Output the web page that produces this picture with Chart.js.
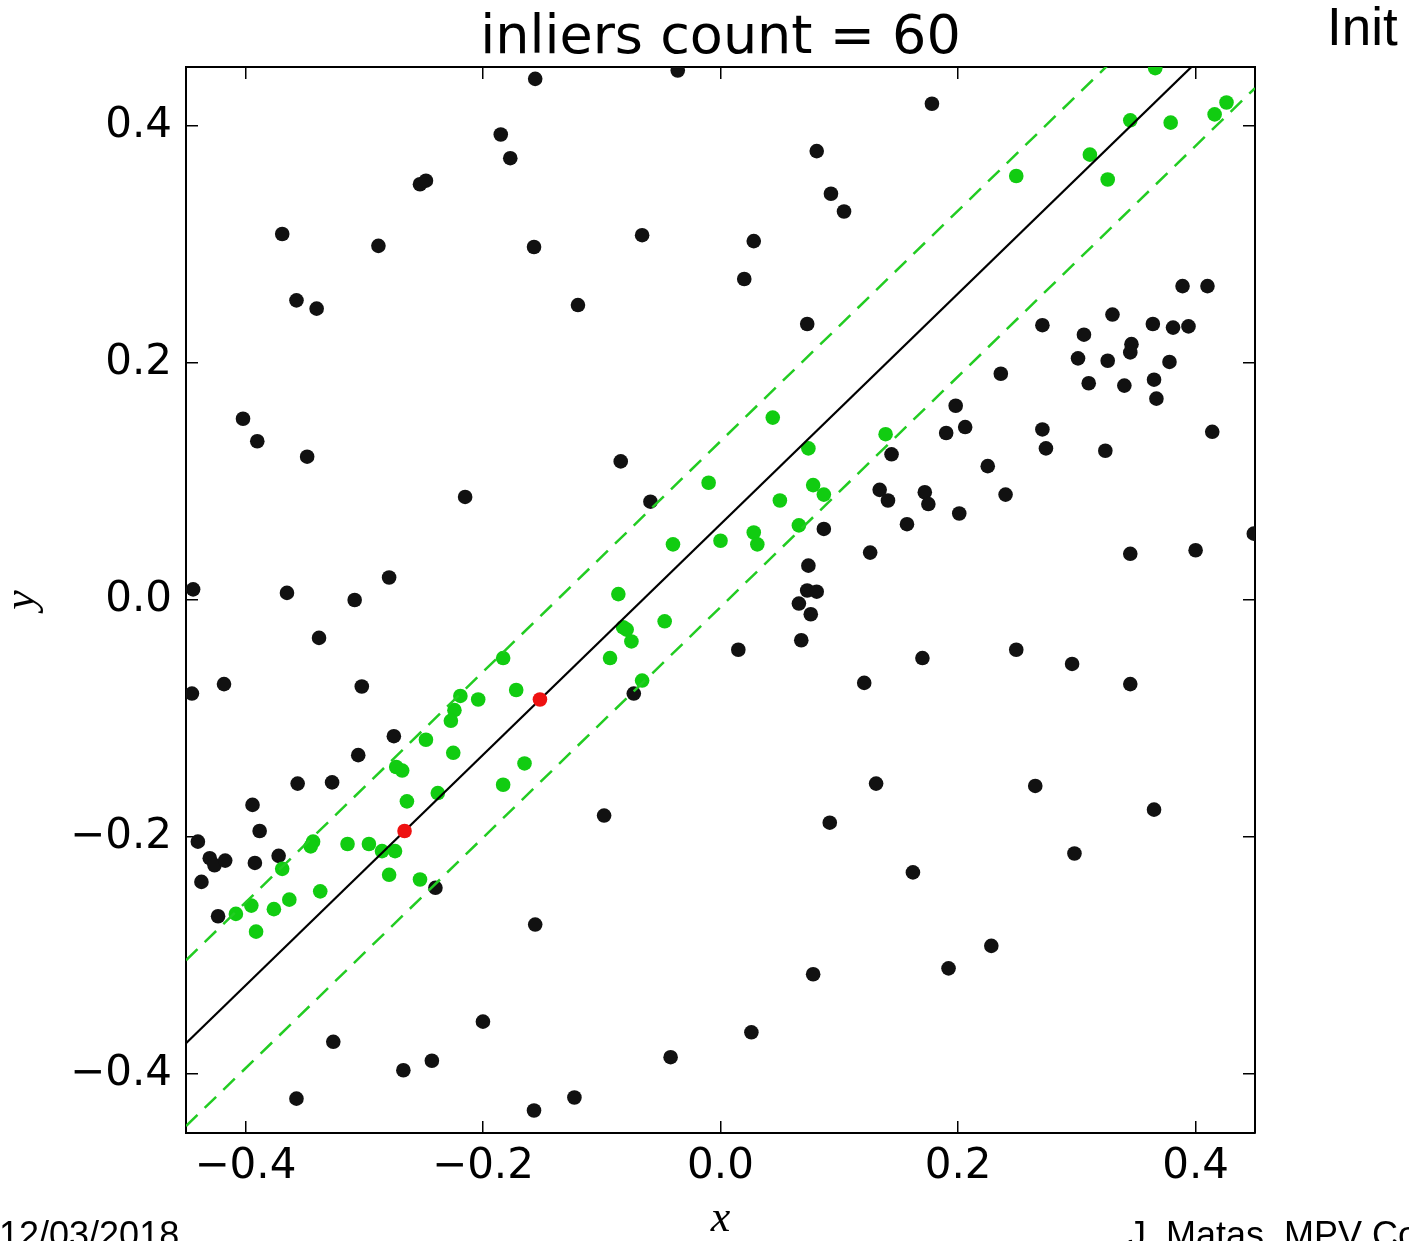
<!DOCTYPE html>
<html><head><meta charset="utf-8">
<script src="https://cdn.jsdelivr.net/npm/chart.js@4.4.1/dist/chart.umd.min.js"></script>
<style>
html,body{margin:0;padding:0;background:#fff;overflow:hidden}
#wrap{position:relative;width:1409px;height:1241px;overflow:hidden}
canvas{position:absolute;left:0;top:0}
.slide{position:absolute;font-family:"Liberation Sans",sans-serif;color:#000;white-space:nowrap;line-height:1}
</style></head><body>
<div id="wrap">
<canvas id="c" width="1409" height="1241"></canvas>
<div class="slide" style="left:1327px;top:0px;font-size:53px">Init</div>
<div class="slide" style="left:-1px;top:1217px;font-size:36px">12/03/2018</div>
<div class="slide" style="left:1128px;top:1217px;font-size:36px">J. Matas, MPV Course</div>
</div>
<script>
const titleText = "inliers count = 60";
const axisRange = [-0.45, 0.45];
const tickValues = [-0.4, -0.2, 0.0, 0.2, 0.4];
const tickLabels = ["\u22120.4", "\u22120.2", "0.0", "0.2", "0.4"];
const xAxisLabel = "x";
const yAxisLabel = "y";

// two sampled points that define the model (red)
const sampleX = [-0.266, -0.152];
const sampleY = [-0.195, -0.084];
// vertical half-width of the inlier band
const bandOffset = 0.07;

// inliers (green)
const inlierX = [0.366,0.426,0.416,0.345,0.379,0.311,0.249,0.326,0.044,0.139,0.074,-0.010,0.078,0.087,0.050,0.066,-0.040,0.000,0.028,0.031,-0.086,-0.082,-0.079,-0.075,-0.047,-0.093,-0.066,-0.183,-0.172,-0.219,-0.204,-0.224,-0.227,-0.248,-0.225,-0.165,-0.273,-0.268,-0.183,-0.238,-0.264,-0.343,-0.345,-0.314,-0.296,-0.285,-0.274,-0.369,-0.279,-0.253,-0.337,-0.363,-0.376,-0.395,-0.408,-0.391];
const inlierY = [0.449,0.420,0.410,0.405,0.403,0.376,0.358,0.355,0.154,0.140,0.128,0.099,0.097,0.089,0.084,0.063,0.047,0.050,0.057,0.047,0.005,-0.023,-0.025,-0.035,-0.018,-0.049,-0.068,-0.049,-0.076,-0.081,-0.084,-0.093,-0.102,-0.118,-0.129,-0.138,-0.141,-0.144,-0.156,-0.163,-0.170,-0.204,-0.208,-0.206,-0.206,-0.212,-0.212,-0.227,-0.232,-0.236,-0.246,-0.253,-0.261,-0.258,-0.265,-0.280];

// outliers (black)
const outlierX = [
 -0.156,-0.185,-0.177,-0.253,-0.248,-0.369,-0.288,-0.157,-0.357,-0.340,-0.402,
 -0.390,-0.348,-0.215,-0.444,-0.365,-0.308,-0.279,-0.338,-0.445,-0.418,-0.302,-0.275,-0.305,
 -0.084,-0.059,0.144,0.134,0.141,0.087,0.126,0.074,0.073,0.081,0.066,0.076,0.015,0.068,-0.073,0.121,
 0.190,0.206,0.271,0.274,0.324,0.414,0.225,0.172,0.175,0.201,0.240,0.157,0.449,0.345,0.400,0.170,0.249,0.296,0.345,
 0.178,0.389,0.410,0.330,0.271,0.364,0.381,0.394,0.306,0.346,0.345,0.301,0.326,0.378,0.236,0.310,0.340,0.365,0.367,0.198,
 -0.036,0.081,0.093,0.104,-0.066,0.028,0.020,-0.120,0.073,
 -0.356,-0.327,-0.394,-0.388,-0.440,-0.430,-0.426,-0.417,-0.392,-0.372,-0.437,-0.423,-0.240,-0.156,-0.200,-0.326,-0.243,-0.267,-0.357,-0.157,
 0.131,-0.098,0.092,0.078,0.026,-0.042,-0.123,
 0.265,0.365,0.298,0.162,0.228,0.192];
const outlierY = [
 0.440,0.393,0.373,0.351,0.354,0.309,0.299,0.298,0.253,0.246,0.153,
 0.134,0.121,0.087,0.009,0.006,0.000,0.019,-0.032,-0.079,-0.071,-0.073,-0.115,-0.131,
 0.117,0.083,0.123,0.093,0.084,0.060,0.040,0.029,0.008,0.007,-0.003,-0.012,-0.042,-0.034,-0.079,-0.070,
 0.141,0.146,0.144,0.128,0.126,0.142,0.113,0.091,0.081,0.073,0.089,0.064,0.056,0.039,0.042,-0.049,-0.042,-0.054,-0.071,
 0.419,0.265,0.265,0.241,0.232,0.233,0.230,0.231,0.224,0.216,0.209,0.204,0.202,0.201,0.191,0.183,0.181,0.186,0.170,0.164,
 0.447,0.379,0.343,0.328,0.308,0.303,0.271,0.249,0.233,
 -0.155,-0.154,-0.173,-0.195,-0.204,-0.218,-0.224,-0.220,-0.222,-0.216,-0.238,-0.267,-0.243,-0.274,-0.356,-0.373,-0.389,-0.397,-0.421,-0.431,
 -0.155,-0.182,-0.188,-0.316,-0.365,-0.386,-0.420,
 -0.157,-0.177,-0.214,-0.230,-0.292,-0.311];

const toPts = (xs, ys) => xs.map((x, i) => ({x: x, y: ys[i]}));
const slope = (sampleY[1] - sampleY[0]) / (sampleX[1] - sampleX[0]);
const intercept = sampleY[0] - slope * sampleX[0];
const lineAt = off => axisRange.map(x => ({x: x, y: slope * x + intercept + off}));

const GREEN = '#11cc11';
const tickFont = {family: 'DejaVu Sans', size: 42};
const labelFor = v => {
  const i = tickValues.findIndex(t => Math.abs(t - v) < 1e-9);
  return i >= 0 ? tickLabels[i] : '';
};
const setTicks = s => { s.ticks = tickValues.map(v => ({value: v})); };
const gridOpts = {display: true, drawOnChartArea: false, drawTicks: true, tickLength: -12, color: '#000', lineWidth: 1.5};
const borderOpts = {display: true, color: '#000', width: 2};

new Chart(document.getElementById('c'), {
  type: 'scatter',
  data: {datasets: [
    {label: 'sample', data: toPts(sampleX, sampleY), backgroundColor: '#ee1111', borderWidth: 0, pointRadius: 7.3, clip: 0},
    {label: 'model', type: 'line', data: lineAt(0), borderColor: '#000', borderWidth: 2.2, pointRadius: 0, fill: false, tension: 0, clip: 0},
    {label: 'upper', type: 'line', data: lineAt(bandOffset), borderColor: '#22cc22', borderWidth: 2.5, borderDash: [16, 10], pointRadius: 0, fill: false, tension: 0, clip: 0},
    {label: 'lower', type: 'line', data: lineAt(-bandOffset), borderColor: '#22cc22', borderWidth: 2.5, borderDash: [16, 10], pointRadius: 0, fill: false, tension: 0, clip: 0},
    {label: 'inliers', data: toPts(inlierX, inlierY), backgroundColor: GREEN, borderWidth: 0, pointRadius: 7.3, clip: 0},
    {label: 'outliers', data: toPts(outlierX, outlierY), backgroundColor: '#111111', borderWidth: 0, pointRadius: 7.3, clip: 0}
  ]},
  options: {
    responsive: false, animation: false, devicePixelRatio: 1, events: [],
    layout: {padding: {left: 0, right: 154, top: 0, bottom: 0}},
    plugins: {
      legend: {display: false}, tooltip: {enabled: false},
      title: {display: true, fullSize: false, text: titleText, color: '#000',
        font: {family: 'DejaVu Sans', size: 54, weight: 'normal', lineHeight: 1},
        padding: {top: 12, bottom: 1}}
    },
    scales: {
      x: {type: 'linear', position: 'bottom', min: axisRange[0], max: axisRange[1],
        afterBuildTicks: setTicks, afterFit: s => { s.height = 108; },
        ticks: {callback: labelFor, font: tickFont, color: '#000', padding: 21, maxRotation: 0, autoSkip: false},
        grid: gridOpts, border: borderOpts,
        title: {display: true, text: xAxisLabel, color: '#000', padding: 0,
          font: {family: 'Liberation Serif', style: 'italic', size: 44, lineHeight: 1}}},
      x2: {type: 'linear', position: 'top', min: axisRange[0], max: axisRange[1],
        afterBuildTicks: setTicks, afterFit: s => { s.height = 0; },
        ticks: {display: false}, grid: gridOpts, border: borderOpts},
      y: {type: 'linear', position: 'left', min: axisRange[0], max: axisRange[1],
        afterBuildTicks: setTicks, afterFit: s => { s.width = 186; },
        ticks: {callback: labelFor, font: tickFont, color: '#000', padding: 26, autoSkip: false},
        grid: gridOpts, border: borderOpts,
        title: {display: true, text: yAxisLabel, color: '#000', padding: 0,
          font: {family: 'Liberation Serif', style: 'italic', size: 44, lineHeight: 1}}},
      y2: {type: 'linear', position: 'right', min: axisRange[0], max: axisRange[1],
        afterBuildTicks: setTicks, afterFit: s => { s.width = 0; },
        ticks: {display: false}, grid: gridOpts, border: borderOpts}
    }
  }
});
</script>
</body></html>
